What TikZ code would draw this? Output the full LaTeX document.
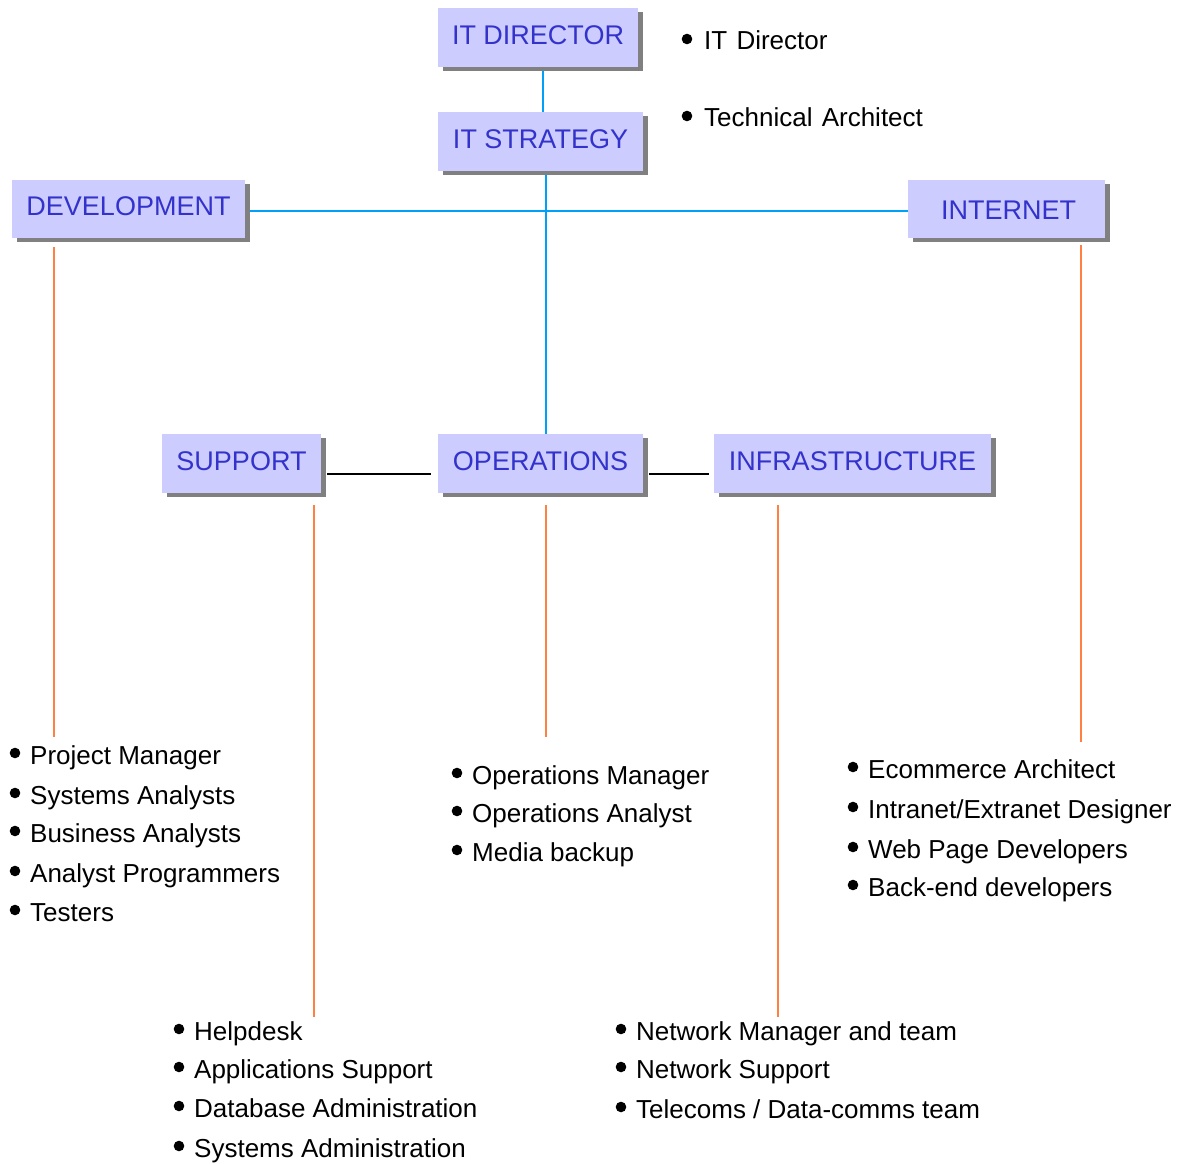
\documentclass[tikz,border=0pt]{standalone}
\usepackage{fontspec}
\setmainfont{Liberation Sans}
\usetikzlibrary{shadows,backgrounds}
\definecolor{boxfill}{RGB}{204,204,255}
\definecolor{boxtext}{RGB}{51,51,204}
\definecolor{shadowgray}{RGB}{128,128,128}
\definecolor{bluelink}{RGB}{0,160,250}
\definecolor{orangelink}{RGB}{255,128,64}
\tikzset{
  orgbox/.style={fill=boxfill, text=boxtext, font=\fontsize{27}{31}\selectfont,
    inner sep=0pt, text height=19.5pt, text depth=6pt, minimum height=59pt,
    drop shadow={shadow xshift=5pt, shadow yshift=-4pt, fill=shadowgray, opacity=1}},
  listitem/.style={font=\fontsize{26}{30}\selectfont, anchor=base west, inner sep=0pt},
  bline/.style={draw=bluelink, line width=2.2pt},
  kline/.style={draw=black, line width=2.2pt},
  oline/.style={draw=orangelink, line width=2.2pt},
}
% #1 bullet x, #2 text x, #3 baseline y, #4 name, #5 text
\newcommand\bulletitem[5]{%
  \fill (#1,#3-11) circle (5.3pt);
  \node[listitem] (#4) at (#2,#3) {#5};}
\begin{document}
\begin{tikzpicture}[x=1pt,y=-1pt]
\useasboundingbox (0,0) rectangle (1187,1164);

% boxes
\node[orgbox, minimum width=200pt] (itdir)   at (538,37.5)   {IT DIRECTOR};
\node[orgbox, minimum width=205pt] (itstrat) at (540.5,141.5) {IT STRATEGY};
\node[orgbox, minimum width=233pt, minimum height=58pt] (dev)  at (128.5,209) {DEVELOPMENT};
\node[orgbox, minimum width=197pt, minimum height=58pt, text height=23.5pt, text depth=2pt] (inet) at (1006.5,209) {\hspace*{4pt}INTERNET};
\node[orgbox, minimum width=159pt] (sup)   at (241.5,463.5) {SUPPORT};
\node[orgbox, minimum width=205pt] (ops)   at (540.5,463.5) {OPERATIONS};
\node[orgbox, minimum width=277pt] (infra) at (852.5,463.5) {INFRASTRUCTURE};

% free ends of the orange lines
\coordinate (devend) at (54,737);
\coordinate (inetend) at (1081,742);
\coordinate (supend) at (314,1017);
\coordinate (opsend) at (546,737);
\coordinate (infend) at (778,1017);

\begin{scope}[on background layer]
  \draw[bline] ([xshift=5pt]itdir.south) -- ([xshift=5pt]itdir.south |- itstrat.north);
  \draw[bline] ([xshift=5.5pt]itstrat.south) -- ([xshift=5.5pt]itstrat.south |- ops.north);
  \draw[bline] ([yshift=-2pt]dev.east) -- ([yshift=-2pt]dev.east -| inet.west);
  \draw[kline] ([shift={(6pt,-10.5pt)}]sup.east) -- ([shift={(-7pt,-10.5pt)}]ops.west);
  \draw[kline] ([shift={(6pt,-10.5pt)}]ops.east) -- ([shift={(-5pt,-10.5pt)}]infra.west);
\end{scope}

\draw[oline] (devend |- dev.south) ++(0,9) -- (devend);
\draw[oline] (inetend |- inet.south) ++(0,7) -- (inetend);
\draw[oline] (supend |- sup.south) ++(0,12) -- (supend);
\draw[oline] (opsend |- ops.south) ++(0,12) -- (opsend);
\draw[oline] (infend |- infra.south) ++(0,12) -- (infend);

% top right
\bulletitem{687}{704}{50}{t1}{IT\hspace{2pt} Director}
\bulletitem{687}{704}{127}{t2}{Technical\hspace{2pt} Architect}

% development
\bulletitem{15}{30}{764}{d1}{Project Manager}
\bulletitem{15}{30}{804}{d2}{Systems Analysts}
\bulletitem{15}{30}{842}{d3}{Business Analysts}
\bulletitem{15}{30}{882}{d4}{Analyst Programmers}
\bulletitem{15}{30}{921}{d5}{Testers}

% operations
\bulletitem{457}{472}{784}{o1}{Operations Manager}
\bulletitem{457}{472}{822}{o2}{Operations Analyst}
\bulletitem{457}{472}{861}{o3}{Media backup}

% internet
\bulletitem{853}{868}{778}{i1}{Ecommerce Architect}
\bulletitem{853}{868}{818}{i2}{Intranet/Extranet Designer}
\bulletitem{853}{868}{858}{i3}{Web Page Developers}
\bulletitem{853}{868}{896}{i4}{Back-end developers}

% support
\bulletitem{179}{194}{1040}{s1}{Helpdesk}
\bulletitem{179}{194}{1078}{s2}{Applications Support}
\bulletitem{179}{194}{1117}{s3}{Database Administration}
\bulletitem{179}{194}{1157}{s4}{Systems Administration}

% infrastructure
\bulletitem{621}{636}{1040}{n1}{Network Manager and team}
\bulletitem{621}{636}{1078}{n2}{Network Support}
\bulletitem{621}{636}{1118}{n3}{Telecoms / Data-comms team}
\end{tikzpicture}
\end{document}
